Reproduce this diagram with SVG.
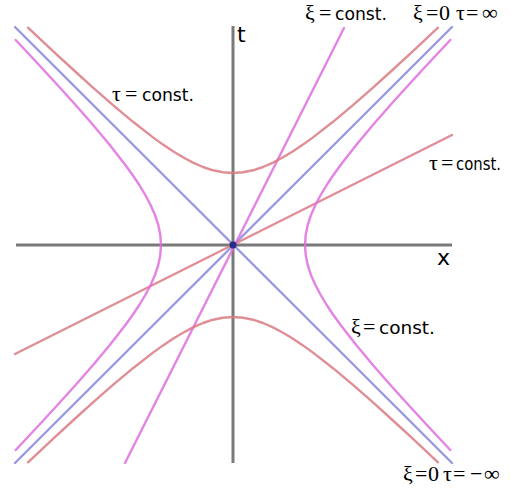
<svg xmlns="http://www.w3.org/2000/svg" xmlns:xlink="http://www.w3.org/1999/xlink" width="510" height="493" viewBox="0 0 510 493">
<style>
.axis{stroke:#7a7a7a;stroke-width:3;fill:none}
.crv{fill:none;stroke-width:2.4;stroke-linecap:round;stroke-linejoin:round;stroke-opacity:0.85}
.red{stroke:#d97a82}
.mag{stroke:#df6ddf}
.blue{stroke:#8686dd}
.g{font-family:"Liberation Serif","Times New Roman",serif;font-size:22px;fill:#000}
.s{font-family:"DejaVu Sans","Liberation Sans",sans-serif;font-size:18px;fill:#000}
.ax{font-family:"DejaVu Sans","Liberation Sans",sans-serif;font-size:22px;fill:#000}
</style>
<defs>
<path id="hyp" d="M-205,-217.3 L-180,-193.9 L-160,-175.5 L-140,-157.4 L-120,-139.9 L-100,-123.2 L-80,-107.6 L-70,-100.4 L-60,-93.7 L-50,-87.7 L-40,-82.4 L-30,-78 L-20,-74.7 L-10,-72.7 L0,-72 L10,-72.7 L20,-74.7 L30,-78 L40,-82.4 L50,-87.7 L60,-93.7 L70,-100.4 L80,-107.6 L100,-123.2 L120,-139.9 L140,-157.4 L160,-175.5 L180,-193.9 L205,-217.3"/>
</defs>
<rect width="510" height="493" fill="#fff"/>
<g id="axes">
<line class="axis" x1="16" y1="245" x2="452" y2="245"/>
<line class="axis" x1="233" y1="26" x2="233" y2="463"/>
</g>
<g id="connectors" transform="translate(233,245)">
<line class="crv blue" x1="-218" y1="-218" x2="219" y2="218"/>
<line class="crv blue" x1="-218" y1="218" x2="219" y2="-218"/>
<line class="crv red" x1="-218" y1="109" x2="219" y2="-110"/>
<line class="crv mag" x1="111" y1="-217" x2="-108" y2="218"/>
<use xlink:href="#hyp" class="crv red"/>
<use xlink:href="#hyp" class="crv red" transform="scale(1,-1)"/>
<use xlink:href="#hyp" class="crv mag" transform="rotate(90)"/>
<use xlink:href="#hyp" class="crv mag" transform="rotate(-90)"/>
<circle cx="0" cy="0" r="3.5" fill="#2a2a8a"/>
</g>
<g id="labels">
<text class="ax" x="237" y="42">t</text>
<text class="ax" x="437" y="265">x</text>
<text y="101"><tspan class="g" x="112">τ</tspan><tspan class="g" x="125">=</tspan><tspan class="s" x="142" textLength="52" lengthAdjust="spacingAndGlyphs">const.</tspan></text>
<text y="170"><tspan class="g" x="429">τ</tspan><tspan class="g" x="441">=</tspan><tspan class="s" x="456" textLength="45" lengthAdjust="spacingAndGlyphs">const.</tspan></text>
<text y="20"><tspan class="g" x="305">ξ</tspan><tspan class="g" x="319">=</tspan><tspan class="s" x="335" textLength="52" lengthAdjust="spacingAndGlyphs">const.</tspan></text>
<text y="334"><tspan class="g" x="351">ξ</tspan><tspan class="g" x="363">=</tspan><tspan class="s" x="379" textLength="56" lengthAdjust="spacingAndGlyphs">const.</tspan></text>
<text class="g" y="20"><tspan x="413">ξ</tspan><tspan x="426">=</tspan><tspan x="439">0</tspan><tspan x="456">τ</tspan><tspan x="466">=</tspan><tspan x="482">∞</tspan></text>
<text class="g" y="481"><tspan x="403">ξ</tspan><tspan x="415">=</tspan><tspan x="428">0</tspan><tspan x="443">τ</tspan><tspan x="453">=</tspan><tspan x="470">−</tspan><tspan x="484">∞</tspan></text>
</g>
</svg>
